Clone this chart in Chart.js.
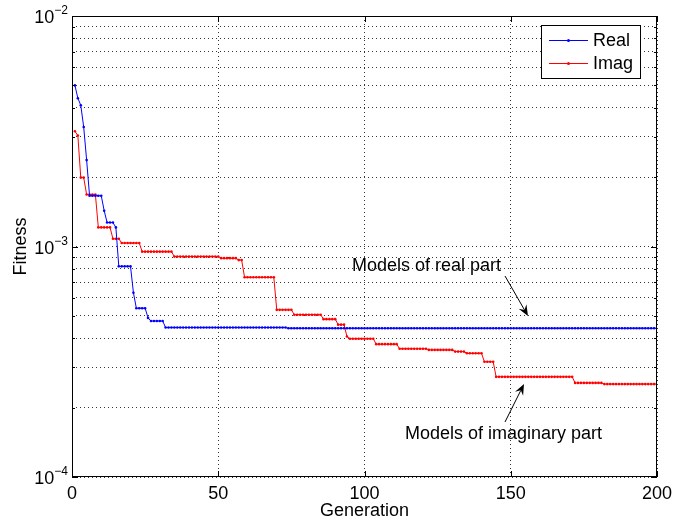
<!DOCTYPE html>
<html>
<head>
<meta charset="utf-8">
<script src="https://cdn.jsdelivr.net/npm/chart.js@4.4.1/dist/chart.umd.min.js"></script>
<style>
  html, body { margin: 0; padding: 0; background: #fff; }
  #wrap { width: 673px; height: 522px; }
</style>
</head>
<body>
<div id="wrap"><canvas id="fit" width="673" height="522"></canvas></div>
<script>
// generation at which the best fitness improved, and the best value from then on
const realGen = [1, 2, 3, 4, 5, 6, 11, 12, 15, 16, 21, 22, 26, 27, 32, 74];
const realFit = [5.0e-3, 4.4e-3, 4.1e-3, 3.3e-3, 2.37e-3, 1.66e-3, 1.43e-3, 1.27e-3, 1.21e-3,
                 8.2e-4, 6.3e-4, 5.4e-4, 4.9e-4, 4.75e-4, 4.45e-4, 4.42e-4];
const imagGen = [1, 2, 3, 5, 9, 14, 17, 24, 35, 51, 57, 59, 70, 76, 86, 91, 94, 95,
                 104, 112, 122, 131, 135, 141, 145, 172, 182];
const imagFit = [3.16e-3, 3.03e-3, 1.99e-3, 1.68e-3, 1.21e-3, 1.08e-3, 1.035e-3, 9.5e-4, 9.04e-4,
                 8.9e-4, 8.73e-4, 7.35e-4, 5.31e-4, 5.06e-4, 4.84e-4, 4.58e-4, 4.07e-4, 3.98e-4,
                 3.77e-4, 3.6e-4, 3.56e-4, 3.5e-4, 3.44e-4, 3.16e-4, 2.72e-4, 2.56e-4, 2.53e-4];
const lastGen = 200;

const xTicks = [0, 50, 100, 150, 200];
const yTicks = [1e-4, 2e-4, 3e-4, 4e-4, 5e-4, 6e-4, 7e-4, 8e-4, 9e-4,
                1e-3, 2e-3, 3e-3, 4e-3, 5e-3, 6e-3, 7e-3, 8e-3, 9e-3, 1e-2];
const yMajor = [[1e-4, '4'], [1e-3, '3'], [1e-2, '2']];

const FONT = '"Liberation Sans", Arial, Helvetica, sans-serif';

// best-so-far fitness for every generation (value stays until the next improvement)
function bestSoFar(gens, vals) {
  const pts = [];
  let k = 0;
  for (let g = gens[0]; g <= lastGen; g++) {
    while (k + 1 < gens.length && gens[k + 1] <= g) k++;
    pts.push({ x: g, y: vals[k] });
  }
  return pts;
}

function arrow(ctx, x1, y1, x2, y2) {
  const a = Math.atan2(y2 - y1, x2 - x1);
  const L = 11, W = 4.5, N = 7;
  ctx.beginPath(); ctx.moveTo(x1, y1);
  ctx.lineTo(x2 - Math.cos(a) * N, y2 - Math.sin(a) * N); ctx.stroke();
  ctx.beginPath();
  ctx.moveTo(x2, y2);
  ctx.lineTo(x2 - Math.cos(a) * L + Math.sin(a) * W, y2 - Math.sin(a) * L - Math.cos(a) * W);
  ctx.lineTo(x2 - Math.cos(a) * N, y2 - Math.sin(a) * N);
  ctx.lineTo(x2 - Math.cos(a) * L - Math.sin(a) * W, y2 - Math.sin(a) * L + Math.cos(a) * W);
  ctx.closePath(); ctx.fill();
}

const frame = {
  id: 'frame',
  afterDatasetsDraw(chart) {
    const { ctx, chartArea: a, scales: { x, y } } = chart;
    ctx.save();
    ctx.strokeStyle = '#000'; ctx.lineWidth = 1;
    ctx.strokeRect(Math.round(a.left) + 0.5, Math.round(a.top) + 0.5,
                   Math.round(a.right - a.left) - 1, Math.round(a.bottom - a.top) - 1);
    ctx.beginPath();
    xTicks.forEach(v => {
      const px = Math.round(x.getPixelForValue(v)) + 0.5;
      ctx.moveTo(px, a.bottom); ctx.lineTo(px, a.bottom - 6);
      ctx.moveTo(px, a.top); ctx.lineTo(px, a.top + 6);
    });
    yTicks.forEach(v => {
      const py = Math.round(y.getPixelForValue(v)) + 0.5;
      const len = yMajor.some(m => m[0] === v) ? 6 : 3;
      ctx.moveTo(a.left, py); ctx.lineTo(a.left + len, py);
      ctx.moveTo(a.right, py); ctx.lineTo(a.right - len, py);
    });
    ctx.stroke();

    // tick labels
    ctx.fillStyle = '#000';
    ctx.font = '18px ' + FONT;
    ctx.textAlign = 'center'; ctx.textBaseline = 'alphabetic';
    xTicks.forEach(v => ctx.fillText(String(v), x.getPixelForValue(v), a.bottom + 22));
    yMajor.forEach(([v, e]) => {
      const py = y.getPixelForValue(v);
      ctx.font = '12px ' + FONT;
      const sup = '\u2212' + e;
      const sw = ctx.measureText(sup).width;
      ctx.textAlign = 'left';
      ctx.fillText(sup, a.left - 4 - sw, py - 2);
      ctx.font = '18px ' + FONT;
      ctx.textAlign = 'right';
      ctx.fillText('10', a.left - 4 - sw, py + 7);
    });

    // axis titles
    ctx.textAlign = 'center';
    ctx.fillText('Generation', (a.left + a.right) / 2, 516);
    ctx.save();
    ctx.translate(26, (a.top + a.bottom) / 2);
    ctx.rotate(-Math.PI / 2);
    ctx.fillText('Fitness', 0, 0);
    ctx.restore();

    // annotations
    ctx.textAlign = 'left';
    ctx.fillText('Models of real part', 352, 271);
    ctx.fillText('Models of imaginary part', 405, 439);
    arrow(ctx, 505, 276, 528, 316);
    arrow(ctx, 505, 422, 524, 384);

    // legend
    ctx.fillStyle = '#fff';
    ctx.fillRect(541, 25, 99, 53);
    ctx.strokeRect(541.5, 25.5, 99, 53);
    chart.data.datasets.forEach((ds, i) => {
      const ly = 40 + i * 23;
      ctx.strokeStyle = ds.borderColor; ctx.fillStyle = ds.borderColor;
      ctx.beginPath(); ctx.moveTo(549, ly + 0.5); ctx.lineTo(588, ly + 0.5); ctx.stroke();
      ctx.beginPath(); ctx.arc(568.5, ly + 0.5, 1.5, 0, Math.PI * 2); ctx.fill();
      ctx.fillStyle = '#000';
      ctx.textBaseline = 'middle';
      ctx.fillText(ds.label, 593, ly + 1);
    });
    ctx.restore();
  }
};

const dotted = { color: '#333', lineWidth: 1, drawTicks: false };

new Chart(document.getElementById('fit'), {
  type: 'line',
  data: {
    datasets: [
      { label: 'Real', data: bestSoFar(realGen, realFit), borderColor: '#0000ff', backgroundColor: '#0000ff',
        borderWidth: 1, pointRadius: 1.3, pointBorderWidth: 0, pointHoverRadius: 0, tension: 0 },
      { label: 'Imag', data: bestSoFar(imagGen, imagFit), borderColor: '#ff0000', backgroundColor: '#ff0000',
        borderWidth: 1, pointRadius: 1.3, pointBorderWidth: 0, pointHoverRadius: 0, tension: 0 }
    ]
  },
  options: {
    responsive: false, animation: false, devicePixelRatio: 1,
    layout: { padding: { top: 16, right: 16, left: 0, bottom: 0 } },
    plugins: { legend: { display: false }, tooltip: { enabled: false } },
    scales: {
      x: {
        type: 'linear', min: 0, max: lastGen,
        afterBuildTicks: s => { s.ticks = xTicks.map(v => ({ value: v })); },
        afterFit: s => { s.height = 45; },
        ticks: { display: false },
        grid: dotted,
        border: { display: false, dash: [1, 3] }
      },
      y: {
        type: 'logarithmic', min: 1e-4, max: 1e-2,
        afterBuildTicks: s => { s.ticks = yTicks.map(v => ({ value: v })); },
        afterFit: s => { s.width = 72; },
        ticks: { display: false },
        grid: dotted,
        border: { display: false, dash: [1, 3] }
      }
    }
  },
  plugins: [frame]
});
</script>
</body>
</html>
